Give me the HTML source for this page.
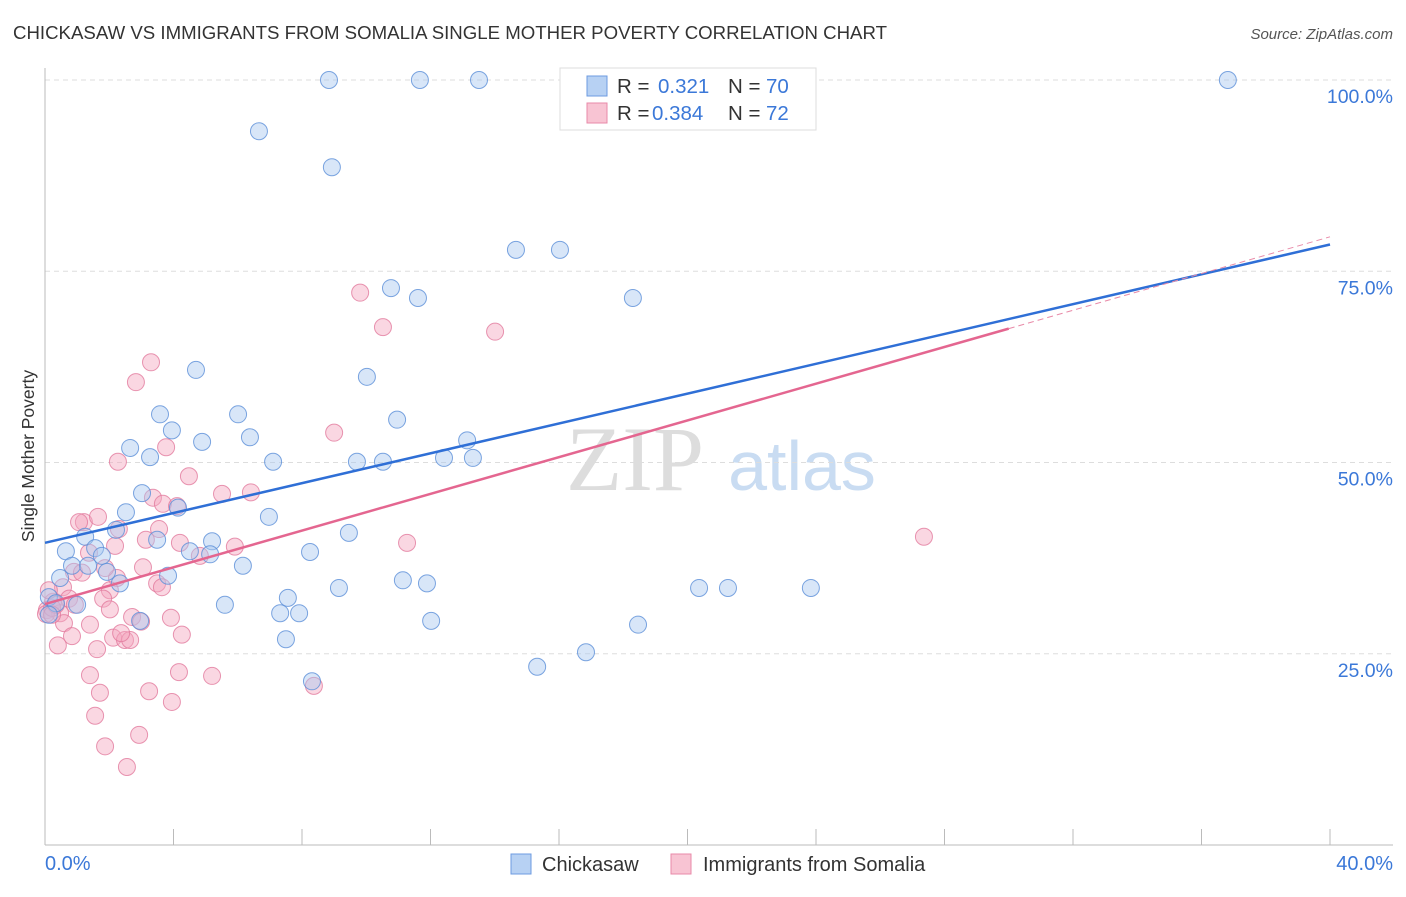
<!DOCTYPE html>
<html><head><meta charset="utf-8"><style>
body{margin:0;background:#fff;font-family:"Liberation Sans",sans-serif}
</style></head><body>
<svg id="c" width="1406" height="892" xmlns="http://www.w3.org/2000/svg">
<text x="13" y="39" font-size="18" textLength="874" lengthAdjust="spacingAndGlyphs" fill="#333">CHICKASAW VS IMMIGRANTS FROM SOMALIA SINGLE MOTHER POVERTY CORRELATION CHART</text>
<text x="1393" y="39" font-size="15" fill="#555" font-style="italic" text-anchor="end">Source: ZipAtlas.com</text>
<text x="34" y="456" font-size="17.5" fill="#333" text-anchor="middle" transform="rotate(-90 34 456)">Single Mother Poverty</text>
<g><text x="635" y="490" font-size="92" font-family="Liberation Serif,serif" fill="#ddd" text-anchor="middle">ZIP</text><text x="802" y="490" font-size="70" fill="#c9dcf2" text-anchor="middle">atlas</text></g>
<g id="grid"></g><g id="marks"></g>
<g>
<rect x="560" y="68" width="256" height="62" fill="#fff" stroke="#ddd"/>
<rect x="587" y="76" width="20" height="20" fill="#b7d1f3" stroke="#6d9be0"/>
<text x="617" y="93" font-size="20.5" fill="#333">R = </text><text x="658" y="93" font-size="20.5" fill="#3b78d8">0.321</text>
<text x="728" y="93" font-size="20.5" fill="#333">N = </text><text x="766" y="93" font-size="20.5" fill="#3b78d8">70</text>
<rect x="587" y="103" width="20" height="20" fill="#f8c4d3" stroke="#e88aa8"/>
<text x="617" y="120" font-size="20.5" fill="#333">R = </text><text x="652" y="120" font-size="20.5" fill="#3b78d8">0.384</text>
<text x="728" y="120" font-size="20.5" fill="#333">N = </text><text x="766" y="120" font-size="20.5" fill="#3b78d8">72</text>
</g>
<g>
<rect x="511" y="854" width="20" height="20" fill="#b7d1f3" stroke="#6d9be0"/>
<text x="542" y="871" font-size="20" fill="#333">Chickasaw</text>
<rect x="671" y="854" width="20" height="20" fill="#f8c4d3" stroke="#e88aa8"/>
<text x="703" y="871" font-size="20" fill="#333">Immigrants from Somalia</text>
</g>
</svg>
<script>
const xTicks=[0,4,8,12,16,20,24,28,32,36,40];
const yTicks=[25,50,75,100];
const yTickLabels=["25.0%","50.0%","75.0%","100.0%"];
const xEndLabels=["0.0%","40.0%"];
const blueX=[8.84,11.67,13.51,36.82,6.66,8.93,14.66,16.03,10.77,11.61,18.30,4.70,10.02,3.58,6.01,10.96,3.95,6.38,4.89,2.65,13.14,3.27,7.10,9.71,10.52,12.42,13.32,3.02,4.14,2.52,6.97,2.21,1.25,9.46,3.49,5.20,0.65,1.56,4.51,1.77,5.14,8.25,0.84,1.34,6.16,1.93,0.47,3.83,2.33,11.14,11.89,9.15,20.36,21.26,23.84,0.12,0.34,1.00,5.60,7.56,7.32,7.91,2.96,12.02,18.46,7.50,16.84,15.32,8.31,0.12];
const blueY=[100,100,100,100,93.3,88.6,77.8,77.8,72.8,71.5,71.5,62.1,61.2,56.3,56.3,55.6,54.2,53.3,52.7,51.9,52.9,50.7,50.1,50.1,50.1,50.6,50.6,46.0,44.1,43.5,42.9,41.2,40.3,40.8,39.9,39.7,38.4,38.8,38.4,37.8,38.0,38.3,36.5,36.5,36.5,35.7,34.9,35.2,34.2,34.6,34.2,33.6,33.6,33.6,33.6,32.4,31.6,31.4,31.4,32.3,30.3,30.3,29.3,29.3,28.8,26.9,25.2,23.3,21.4,30.1];
const pinkX=[9.81,10.52,14.01,3.30,2.83,9.00,3.77,2.27,4.48,5.51,6.41,3.36,3.67,4.11,1.21,1.06,1.65,2.30,3.55,3.14,4.20,5.91,2.18,11.27,27.36,1.37,4.82,3.05,0.90,1.15,2.24,0.56,3.49,3.64,2.02,1.81,0.75,0.25,0.06,0.47,2.02,2.71,3.92,2.99,0.59,1.40,4.26,0.84,2.12,2.49,2.65,0.40,1.62,1.40,4.17,5.20,8.37,1.71,3.24,3.95,1.56,1.87,2.93,2.55,0.03,0.22,0.34,1.87,0.12,0.93,2.37,0.22];
const pinkY=[72.2,67.7,67.1,63.1,60.5,53.9,52.0,50.1,48.2,45.9,46.1,45.4,44.6,44.3,42.2,42.2,42.9,41.3,41.3,39.9,39.5,39.0,39.1,39.5,40.3,38.2,37.8,36.3,35.7,35.6,34.9,33.7,34.2,33.7,33.3,32.2,32.2,31.8,30.7,30.3,30.8,29.8,29.7,29.2,29.0,28.8,27.5,27.3,27.1,26.8,26.8,26.1,25.6,22.2,22.6,22.1,20.8,19.9,20.1,18.7,16.9,12.9,14.4,10.2,30.2,31.0,31.4,36.2,33.3,31.4,27.7,30.1];
const blueTrend=[39.5,78.5];
const pinkTrend=[31.5,79.5];
const pinkSolidEnd=30.0;

const NS="http://www.w3.org/2000/svg";
const X0=45,X1=1330,YT=80,YB=845;
const sx=v=>X0+(v-0)/(40-0)*(X1-X0);
const sy=v=>YB-(v-0)/(100-0)*(YB-YT);
function mk(t,a,p){const e=document.createElementNS(NS,t);for(const k in a)e.setAttribute(k,a[k]);p.appendChild(e);return e;}
const g=document.getElementById('grid'),m=document.getElementById('marks');
yTicks.forEach((t,i)=>{
 const l=mk('line',{x1:X0,x2:1393,y1:sy(t),y2:sy(t),stroke:'#ddd','stroke-dasharray':'5,4'},g);
 
 
 const tx=mk('text',{x:1393,y:sy(t)+23,'font-size':19.5,fill:'#3b78d8','text-anchor':'end'},g);
 tx.textContent=yTickLabels[i];
 
 
});
const ax=mk('line',{x1:X0,x2:X0,y1:68,y2:YB,stroke:'#bbb'},g);


const bx=mk('line',{x1:X0,x2:1393,y1:YB,y2:YB,stroke:'#bbb'},g);


xTicks.forEach(t=>{
 const l=mk('line',{x1:sx(t),x2:sx(t),y1:829,y2:YB,stroke:'#bbb'},g);
 
 
});
const xl0=mk('text',{x:45,y:870,'font-size':20,fill:'#3b78d8'},g);xl0.textContent=xEndLabels[0];


const xl1=mk('text',{x:1393,y:870,'font-size':20,fill:'#3b78d8','text-anchor':'end'},g);xl1.textContent=xEndLabels[1];


function pts(X,Y,fill,stroke,name){X.forEach((x,i)=>{
 const c=mk('circle',{cx:sx(x),cy:sy(Y[i]),r:8.5,fill:fill,'fill-opacity':0.45,stroke:stroke,'stroke-opacity':0.8,'stroke-width':1},m);
 
 
});}
pts(pinkX,pinkY,'#f4a7be','#e27a9d','point-somalia');
pts(blueX,blueY,'#a9c8f0','#5b8fd8','point-chickasaw');
const pv=x=>pinkTrend[0]+(pinkTrend[1]-pinkTrend[0])*x/40;
const bl=mk('line',{x1:sx(0),y1:sy(blueTrend[0]),x2:sx(40),y2:sy(blueTrend[1]),stroke:'#2f6fd6','stroke-width':2.5},m);


const pd=mk('line',{x1:sx(pinkSolidEnd),y1:sy(pv(pinkSolidEnd)),x2:sx(40),y2:sy(pinkTrend[1]),stroke:'#e88aa8','stroke-width':1,'stroke-dasharray':'6,4'},m);


const pl=mk('line',{x1:sx(0),y1:sy(pinkTrend[0]),x2:sx(pinkSolidEnd),y2:sy(pv(pinkSolidEnd)),stroke:'#e46690','stroke-width':2.5},m);


</script>
</body></html>
